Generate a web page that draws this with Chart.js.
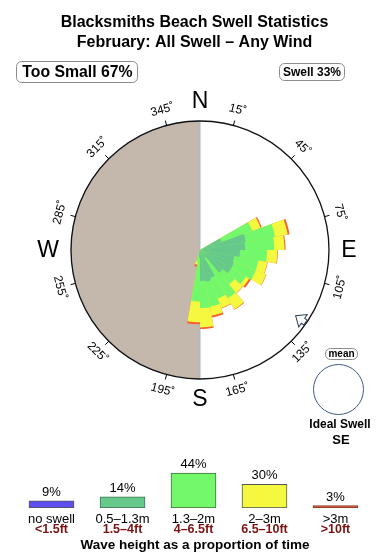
<!DOCTYPE html>
<html>
<head>
<meta charset="utf-8">
<script src="https://cdn.jsdelivr.net/npm/chart.js@4.4.1/dist/chart.umd.min.js"></script>
<style>
  body { margin: 0; background: #fff; }
  #wrap { position: relative; width: 390px; height: 560px; }
  canvas { position: absolute; left: 0; }
</style>
</head>
<body>
<div id="wrap">
  <canvas id="roseChart" width="390" height="560" style="top:0"></canvas>
  <canvas id="barChart" width="390" height="120" style="top:440px"></canvas>
</div>
<script>
const FONT = "'Liberation Sans', Arial, sans-serif";

const titleLines = ["Blacksmiths Beach Swell Statistics", "February: All Swell \u2013 Any Wind"];
const tooSmallText = "Too Small 67%";
const swellText = "Swell 33%";

// 10 degree direction bins, boundaries at multiples of 10
const directionBins = [
    "5", "15", "25", "35", "45", "55", "65", "75", "85", "95", "105", "115",
    "125", "135", "145", "155", "165", "175", "185", "195", "205", "215", "225", "235",
    "245", "255", "265", "275", "285", "295", "305", "315", "325", "335", "345", "355"
];

// thickness of each height band per bin (share of the rim radius, rim = 100)
const band05to13 = [0, 0, 0, 0, 0, 0, 18, 36, 35, 31, 27, 28, 28, 23, 7, 23, 25, 24, 6, 3, 0, 0, 0, 0, 0, 0, 0, 0, 0, 0, 0, 0, 0, 0, 0, 0];
const band13to2 = [0, 0, 0, 0, 0, 0, 25, 23, 22.5, 21, 19, 18, 13, 12, 36, 17, 19.5, 21, 34, 6, 0, 0, 0, 0, 0, 0, 0, 0, 0, 0, 0, 0, 0, 0, 0, 0];
const band2to3 = [0, 0, 0, 0, 0, 0, 7, 10, 8, 8, 7, 8.5, 3, 8.5, 10, 8, 7, 15, 16, 2.5, 0, 0, 0, 0, 0, 0, 0, 0, 0, 0, 0, 0, 0, 0, 0, 0];
const bandOver3 = [0, 0, 0, 0, 0, 0, 1, 1.5, 0.8, 0.4, 0.3, 0.3, 1.6, 0.3, 0.4, 0.3, 1.6, 1.2, 1.6, 1.6, 0, 0, 0, 0, 0, 0, 0, 0, 0, 0, 0, 0, 0, 0, 0, 0];
const rimValue = 100;

// shaded half (too small / blocked): east half empty, west half full
const shadeHalves = [0, rimValue];

const angleMarks = [15, 45, 75, 105, 135, 165, 195, 225, 255, 285, 315, 345];
const compass = [["N", 0], ["E", 90], ["S", 180], ["W", 270]];

// legend bars
const heightLabels = ["no swell", "0.5\u20131.3m", "1.3\u20132m", "2\u20133m", ">3m"];
const feetLabels = ["<1.5ft", "1.5\u20134ft", "4\u20136.5ft", "6.5\u201310ft", ">10ft"];
const heightShare = [9, 14, 44, 30, 3];
const legendTitle = "Wave height as a proportion of time";

const colTeal = "#66c98b";
const colGreen = "#72f86a";
const colYellow = "#f4f83e";
const colRed = "#f86030";

Chart.defaults.font.family = FONT;

function cumulative(bands) {
    return directionBins.map((_, i) => bands.reduce((s, b) => s + b[i], 0));
}

const roseDecor = {
    id: "roseDecor",
    afterDraw(chart) {
        const ctx = chart.ctx;
        const r = chart.scales.r;
        const cx = r.xCenter, cy = r.yCenter, R = r.drawingArea;
        ctx.save();
        ctx.fillStyle = "#000";
        ctx.textAlign = "center";

        // titles
        ctx.font = "bold 16px " + FONT;
        ctx.textBaseline = "alphabetic";
        ctx.fillText(titleLines[0], 194.5, 27);
        ctx.fillText(titleLines[1], 194.5, 47);

        // boxes
        ctx.strokeStyle = "#8c8c8c";
        ctx.lineWidth = 1;
        ctx.beginPath();
        ctx.roundRect(16.5, 61.5, 121, 21, 5);
        ctx.stroke();
        ctx.beginPath();
        ctx.roundRect(279.5, 63.5, 65, 17, 5);
        ctx.stroke();
        ctx.textBaseline = "middle";
        ctx.font = "bold 15.8px " + FONT;
        ctx.fillText(tooSmallText, 77.5, 72.5);
        ctx.font = "bold 12px " + FONT;
        ctx.fillText(swellText, 312, 72.5);

        // degree ticks and labels
        ctx.strokeStyle = "#000";
        ctx.font = "12px " + FONT;
        angleMarks.forEach((a) => {
            const rad = a * Math.PI / 180;
            const s = Math.sin(rad), c = Math.cos(rad);
            ctx.beginPath();
            ctx.moveTo(cx + R * s, cy - R * c);
            ctx.lineTo(cx + (R + 5) * s, cy - (R + 5) * c);
            ctx.stroke();
            ctx.save();
            ctx.translate(cx + (R + 16) * s, cy - (R + 16) * c);
            const rot = (a > 90 && a < 270) ? a - 180 : a;
            ctx.rotate(rot * Math.PI / 180);
            ctx.fillText(a + "\u02DA", 0, 0);
            ctx.restore();
        });

        // compass letters
        ctx.font = "23px " + FONT;
        compass.forEach(([t, a]) => {
            const rad = a * Math.PI / 180;
            const d = R + (a === 270 ? 23 : 20);
            ctx.fillText(t, cx + d * Math.sin(rad), cy - d * Math.cos(rad) + 1);
        });

        // ideal swell arrow
        ctx.save();
        ctx.translate(cx, cy);
        ctx.rotate(124.5 * Math.PI / 180);
        ctx.beginPath();
        ctx.moveTo(0, -R + 13);
        ctx.lineTo(7.5, -R + 4);
        ctx.lineTo(3, -R + 4);
        ctx.lineTo(3, -R + 1);
        ctx.lineTo(-3, -R + 1);
        ctx.lineTo(-3, -R + 4);
        ctx.lineTo(-7.5, -R + 4);
        ctx.closePath();
        ctx.fillStyle = "#fff";
        ctx.fill();
        ctx.strokeStyle = "#2c3e55";
        ctx.stroke();
        ctx.restore();

        // mean box + mini circle
        ctx.strokeStyle = "#8c8c8c";
        ctx.beginPath();
        ctx.roundRect(325.5, 348.5, 32, 11, 5);
        ctx.stroke();
        ctx.fillStyle = "#000";
        ctx.font = "bold 10px " + FONT;
        ctx.fillText("mean", 341.5, 354.5);
        ctx.strokeStyle = "#3d5a85";
        ctx.beginPath();
        ctx.arc(338.5, 389.5, 25, 0, Math.PI * 2);
        ctx.stroke();
        ctx.font = "bold 12px " + FONT;
        ctx.fillText("Ideal Swell", 340, 425);
        ctx.font = "bold 13px " + FONT;
        ctx.fillText("SE", 341, 440);
        ctx.restore();
    }
};

new Chart(document.getElementById("roseChart"), {
    type: "polarArea",
    data: {
        labels: directionBins,
        datasets: [
            { data: cumulative([band05to13]), backgroundColor: colTeal, borderWidth: 0 },
            { data: cumulative([band05to13, band13to2]), backgroundColor: colGreen, borderWidth: 0 },
            { data: cumulative([band05to13, band13to2, band2to3]), backgroundColor: colYellow, borderWidth: 0 },
            { data: cumulative([band05to13, band13to2, band2to3, bandOver3]), backgroundColor: colRed, borderWidth: 0 },
            { data: shadeHalves, backgroundColor: "#c4b8ac", borderColor: "#9dbbd6", borderWidth: [0, 1] },
        ],
    },
    options: {
        responsive: false,
        animation: false,
        layout: { padding: { left: 71, right: 61, top: 121, bottom: 181 } },
        scales: {
            r: {
                min: 0,
                max: rimValue,
                startAngle: 0,
                ticks: { display: false, stepSize: rimValue },
                grid: { display: true, circular: true, color: "#111", lineWidth: 1.3, z: 1 },
                angleLines: { display: false },
                pointLabels: { display: false },
            },
        },
        plugins: {
            legend: { display: false },
            tooltip: { enabled: false },
        },
    },
    plugins: [roseDecor],
});

const barText = {
    id: "barText",
    afterDraw(chart) {
        const ctx = chart.ctx;
        const bars = chart.getDatasetMeta(0).data;
        ctx.save();
        ctx.textAlign = "center";
        ctx.textBaseline = "middle";
        bars.forEach((bar, i) => {
            ctx.fillStyle = "#000";
            ctx.font = "13px " + FONT;
            ctx.fillText(heightShare[i] + "%", bar.x, bar.y - 8.5);
            ctx.fillText(heightLabels[i], bar.x, 79);
            ctx.fillStyle = "#7a1212";
            ctx.font = "bold 12.5px " + FONT;
            ctx.fillText(feetLabels[i], bar.x, 90);
        });
        ctx.fillStyle = "#000";
        ctx.font = "bold 13.5px " + FONT;
        ctx.fillText(legendTitle, 195, 105);
        ctx.restore();
    }
};

new Chart(document.getElementById("barChart"), {
    type: "bar",
    data: {
        labels: heightLabels,
        datasets: [{
            data: heightShare,
            backgroundColor: ["#5e4ff0", colTeal, colGreen, colYellow, "#d05432"],
            borderColor: ["#555", "#3f6f52", "#3f6f3f", "#555", "#8a3a28"],
            borderWidth: 1,
            borderSkipped: false,
            barThickness: 45,
        }],
    },
    options: {
        responsive: false,
        animation: false,
        layout: { padding: { left: 16, right: 19, top: 30, bottom: 52 } },
        scales: {
            x: { display: false },
            y: { display: false, min: 0, max: 48 },
        },
        plugins: {
            legend: { display: false },
            tooltip: { enabled: false },
        },
    },
    plugins: [barText],
});
</script>
</body>
</html>
